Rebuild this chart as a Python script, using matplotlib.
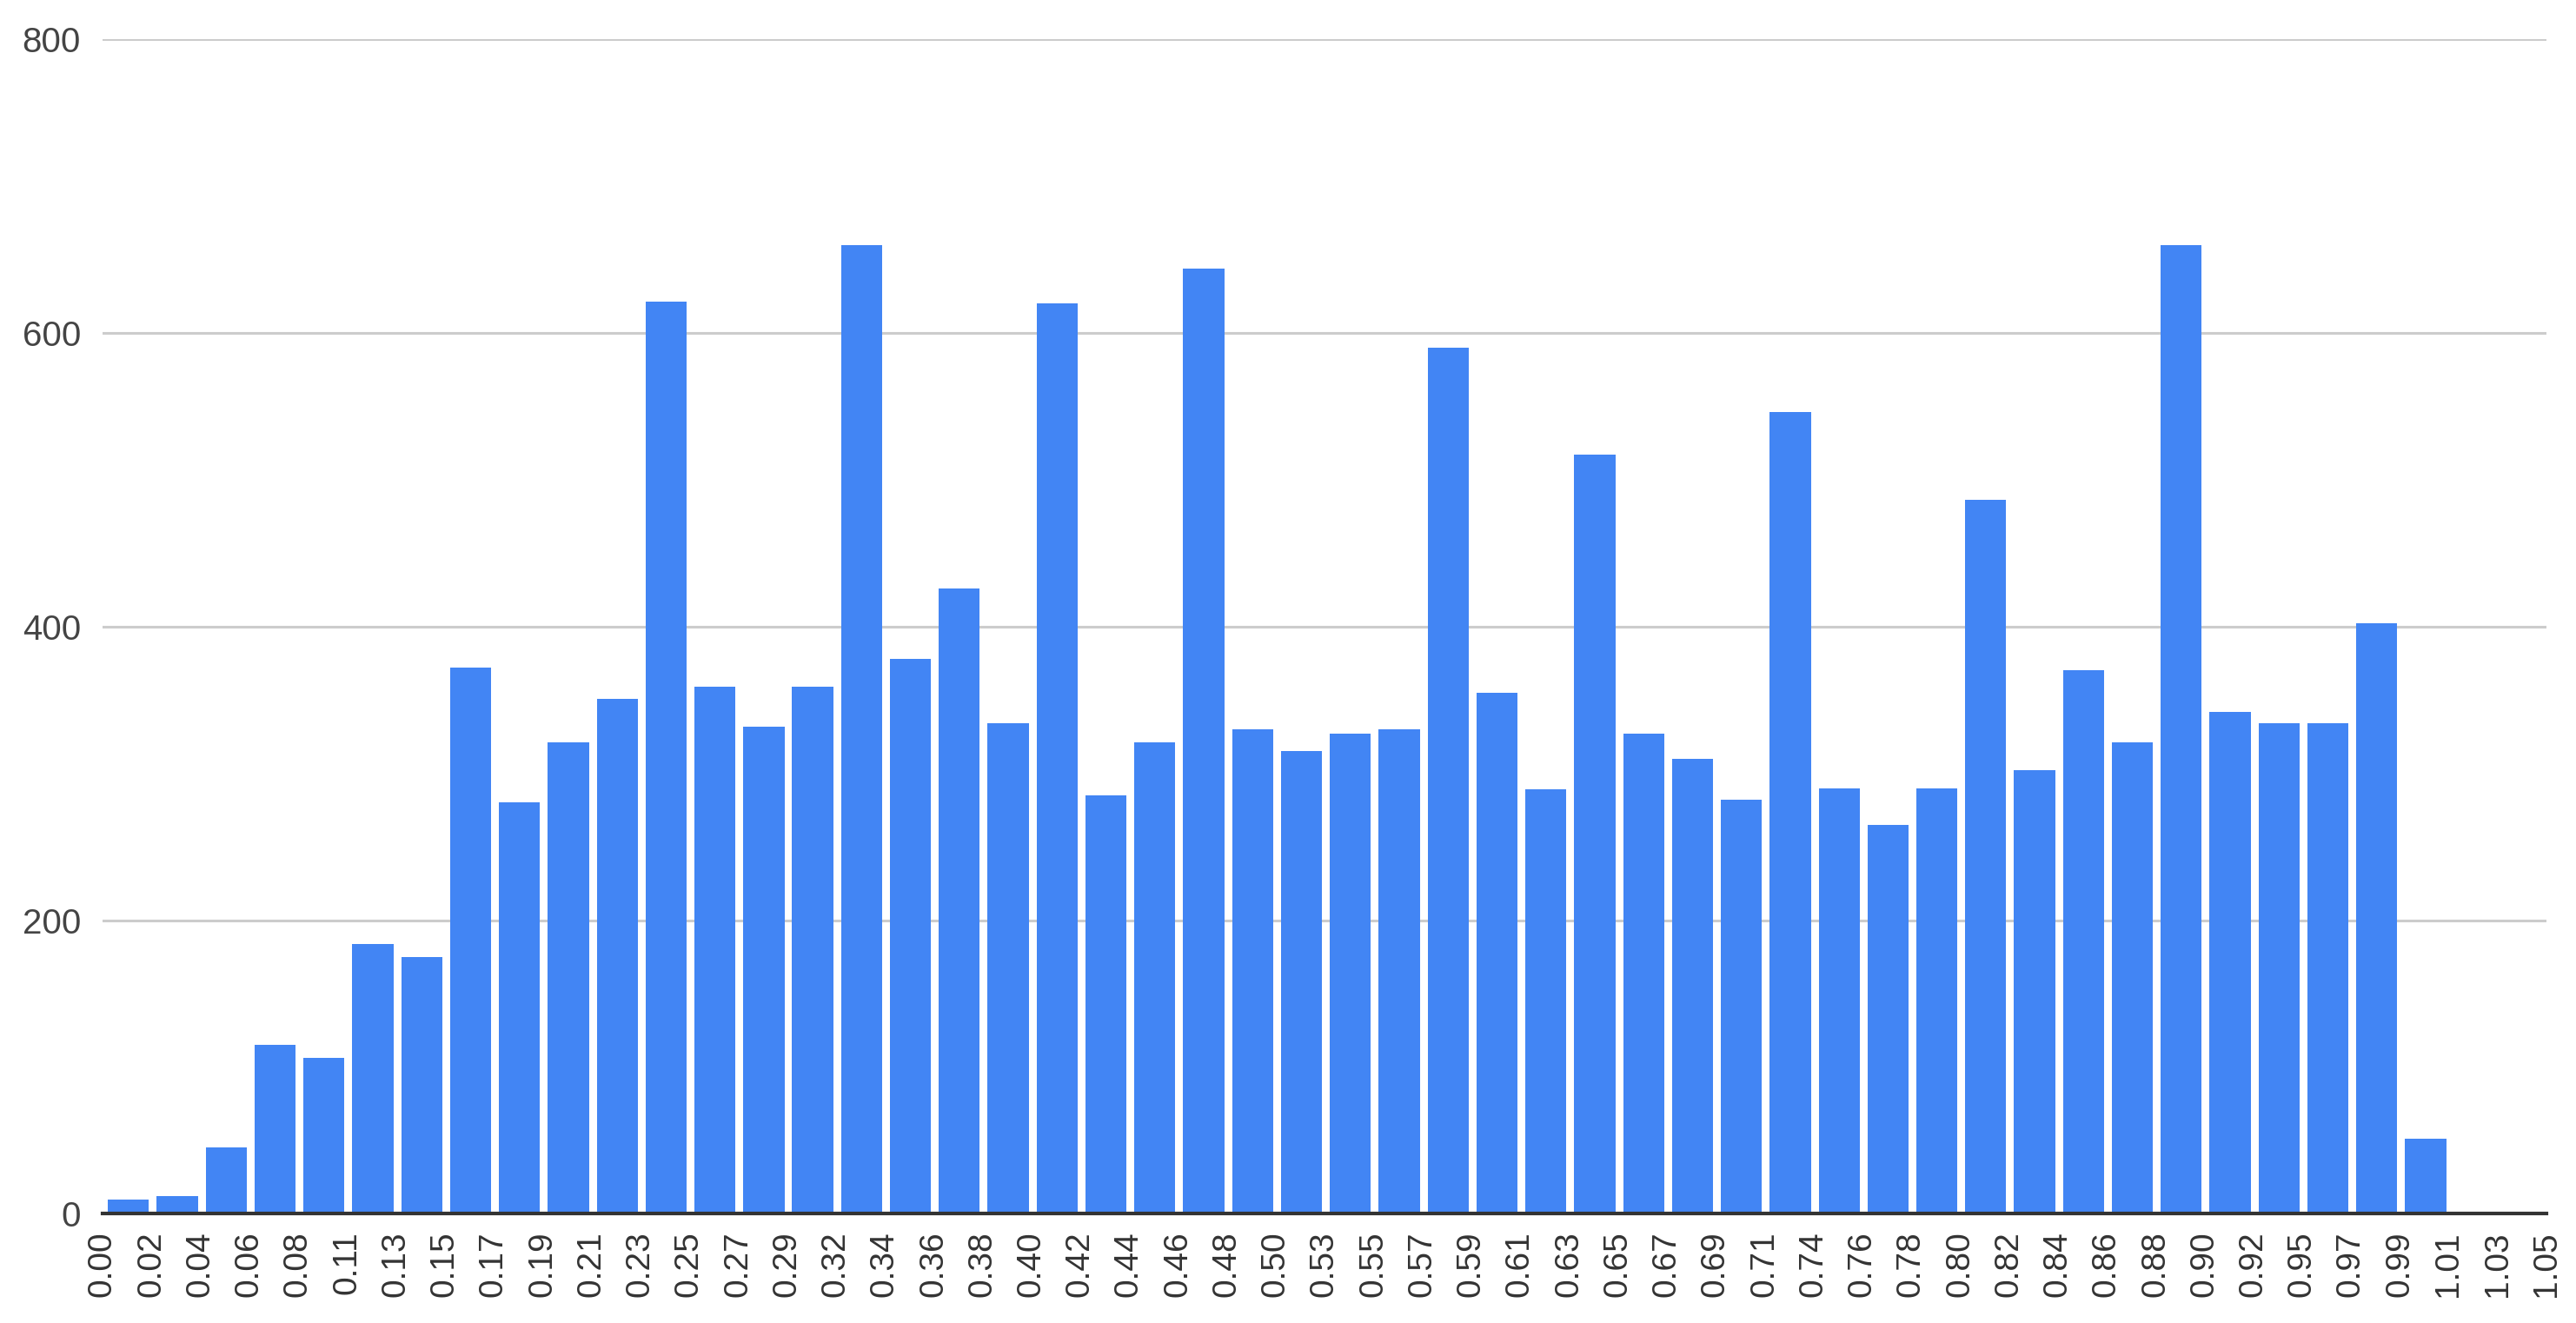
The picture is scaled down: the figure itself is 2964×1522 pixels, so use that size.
import matplotlib.pyplot as plt

# histogram counts, one per bin of width 0.021 starting at 0
counts = [10, 12, 45, 115, 106, 184, 175, 372, 280, 321,
          351, 621, 359, 332, 359, 660, 378, 426, 334, 620,
          285, 321, 644, 330, 315, 327, 330, 590, 355, 289,
          517, 327, 310, 282, 546, 290, 265, 290, 486, 302,
          370, 321, 660, 342, 334, 334, 402, 51, 0, 0]

edge_labels = ["0.00", "0.02", "0.04", "0.06", "0.08", "0.11", "0.13", "0.15", "0.17", "0.19",
               "0.21", "0.23", "0.25", "0.27", "0.29", "0.32", "0.34", "0.36", "0.38", "0.40",
               "0.42", "0.44", "0.46", "0.48", "0.50", "0.53", "0.55", "0.57", "0.59", "0.61",
               "0.63", "0.65", "0.67", "0.69", "0.71", "0.74", "0.76", "0.78", "0.80", "0.82",
               "0.84", "0.86", "0.88", "0.90", "0.92", "0.95", "0.97", "0.99", "1.01", "1.03",
               "1.05"]

y_ticks = [0, 200, 400, 600, 800]

plt.rcParams['font.family'] = ['Liberation Sans', 'DejaVu Sans']

fig = plt.figure(figsize=(29.64, 15.22), dpi=100)
ax = fig.add_axes([0.0398, 0.0825, 0.9487, 0.8879])

bins = list(range(len(counts)))
ax.bar([b + 0.53 for b in bins], counts, width=0.84, color="#4285F4", zorder=3)

ax.set_xlim(0, len(counts))
ax.set_ylim(0, 800)
ax.set_xticks(list(range(len(edge_labels))))
ax.set_xticklabels(edge_labels, rotation=90, fontsize=28, color="#333333")
ax.set_yticks(y_ticks)
ax.set_yticklabels([str(v) for v in y_ticks], fontsize=29, color="#444444")
ax.tick_params(axis="both", length=0)
ax.tick_params(axis="x", pad=14)
ax.tick_params(axis="y", pad=18)

ax.yaxis.grid(True, color="#cccccc", linewidth=2.2, zorder=0)
for s in ["top", "right", "left"]:
    ax.spines[s].set_visible(False)
ax.spines["bottom"].set_color("#333333")
ax.spines["bottom"].set_linewidth(3)
ax.spines["bottom"].set_zorder(4)

fig.savefig("out.png", dpi=100)
